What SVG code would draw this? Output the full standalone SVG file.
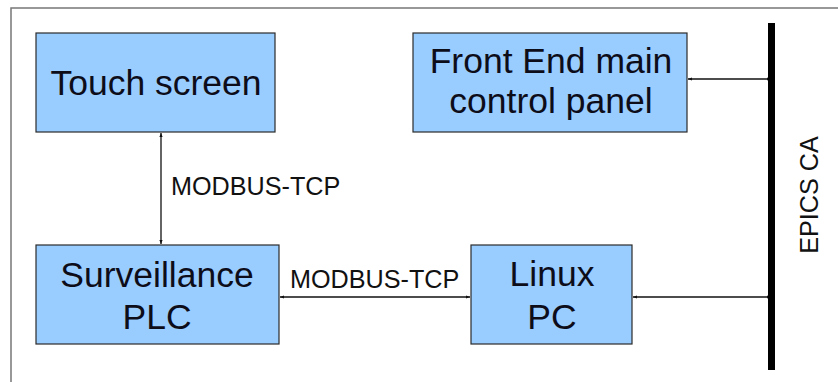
<svg xmlns="http://www.w3.org/2000/svg" width="838" height="382" viewBox="0 0 838 382">
<style>
.box{fill:#99ccff;stroke:#2b2b2b;stroke-width:1.2}
.big{font-family:"Liberation Sans",Arial,sans-serif;font-size:35.5px;fill:#0d0d1a;text-anchor:middle}
.lbl{font-family:"Liberation Sans",Arial,sans-serif;font-size:25.2px;fill:#111}
.conn{stroke:#111;stroke-width:1.3;fill:none;marker-start:url(#ah);marker-end:url(#ah)}
</style>
<defs>
<marker id="ah" viewBox="0 0 10 10" refX="10" refY="5" markerWidth="4" markerHeight="4" orient="auto-start-reverse" markerUnits="userSpaceOnUse">
<path d="M0,1 L10,5 L0,9 z" fill="#111"/>
</marker>
</defs>
<rect x="0" y="0" width="838" height="382" fill="#fff"/>
<path d="M11,382 L11,8 L838,8" fill="none" stroke="#777" stroke-width="1.5"/>
<g id="connectors">
<line class="conn" x1="161" y1="133" x2="161" y2="244"/>
<line class="conn" x1="280" y1="297" x2="470" y2="297"/>
<line class="conn" x1="771" y1="297" x2="633" y2="297"/>
<line class="conn" x1="771" y1="79" x2="688" y2="79"/>
<text class="lbl" x="171" y="195">MODBUS-TCP</text>
<text class="lbl" x="290" y="288">MODBUS-TCP</text>
</g>
<g id="bus">
<line x1="771.5" y1="23" x2="771.5" y2="370" stroke="#000" stroke-width="7"/>
<text class="lbl" transform="translate(818,195) rotate(-90)" text-anchor="middle">EPICS CA</text>
</g>
<g id="touch">
<rect class="box" x="36" y="33" width="239" height="99"/>
<text class="big" x="156" y="95">Touch screen</text>
</g>
<g id="frontend">
<rect class="box" x="413" y="33" width="274" height="99"/>
<text class="big" x="551" y="73">Front End main</text>
<text class="big" x="551" y="113">control panel</text>
</g>
<g id="plc">
<rect class="box" x="36" y="245" width="243" height="99"/>
<text class="big" x="157" y="287">Surveillance</text>
<text class="big" x="157" y="329">PLC</text>
</g>
<g id="linux">
<rect class="box" x="471" y="245" width="161" height="99"/>
<text class="big" x="552" y="286">Linux</text>
<text class="big" x="552" y="329">PC</text>
</g>
</svg>
